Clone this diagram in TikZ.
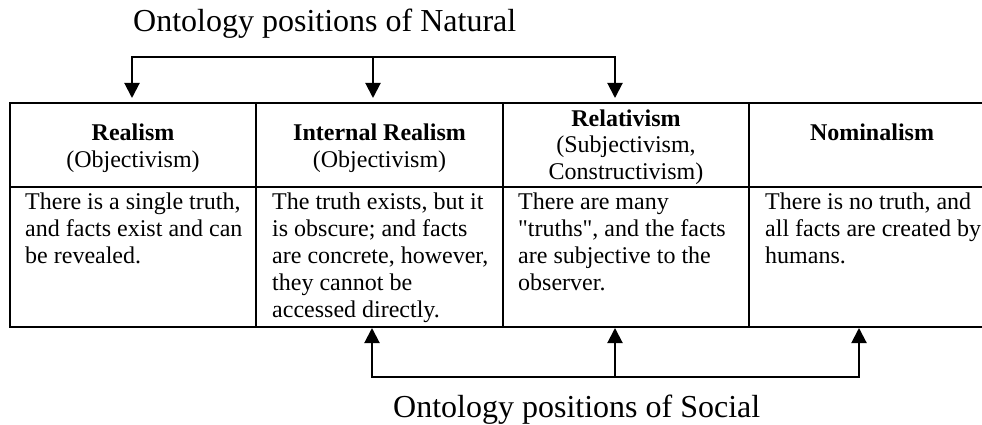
\documentclass[tikz,border=0pt]{standalone}
\usepackage{fontspec}
\setmainfont{Liberation Serif}
\usetikzlibrary{arrows.meta}
% straight double quote glyph, bypassing the TeX ligature mapping
\newcommand{\straightdq}{\XeTeXglyph\XeTeXcharglyph"22\relax}

\begin{document}
\begin{tikzpicture}[x=1pt,y=-1pt,
  grid/.style={line width=2pt, line cap=rect},
  conn/.style={line width=2pt},
  arr/.style={conn, -{Triangle[length=15pt,width=15pt]}},
  % multi-line cells are placed by the baseline of their last line
  headcell/.style={inner sep=0pt, anchor=base, align=center,
    font=\fontsize{24}{26.5}\selectfont},
  bodycell/.style={inner sep=0pt, anchor=base west, align=left,
    font=\fontsize{24}{27}\selectfont},
  titletext/.style={inner sep=0pt, anchor=base west, font=\fontsize{32}{36}\selectfont}]

\useasboundingbox (0,0) rectangle (982,425);

% table rules
\draw[grid] (10,103) -- (982,103);
\draw[grid] (10,187) -- (982,187);
\draw[grid] (10,327) -- (982,327);
\foreach \x in {10,256,503,749} \draw[grid] (\x,103) -- (\x,327);

% header row
\node[headcell] (hReal) at (133,167.5) {\textbf{Realism}\\(Objectivism)};
\node[headcell] (hInt) at (379.5,167.5) {\textbf{Internal Realism}\\(Objectivism)};
\node[headcell] (hRel) at (626,179) {\textbf{Relativism}\\(Subjectivism,\\Constructivism)};
\node[headcell] (hNom) at (872,140) {\textbf{Nominalism}};

% body row
\node[bodycell] (bReal) at (25,263) {There is a single truth,\\and facts exist and can\\be revealed.};
\node[bodycell] (bInt) at (272,317) {The truth exists, but it\\is obscure; and facts\\are concrete, however,\\they cannot be\\accessed directly.};
\node[bodycell] (bRel) at (518,290) {There are many\\\straightdq truths\straightdq, and the facts\\are subjective to the\\observer.};
\node[bodycell] (bNom) at (765,263) {There is no truth, and\\all facts are created by\\humans.};

% titles
\node[titletext] (natural) at (133,32) {Ontology positions of Natural};
\node[titletext] (social) at (393,417) {Ontology positions of Social};

% natural-science connectors
\coordinate (n1) at (132,57);
\coordinate (n2) at (373,57);
\coordinate (n3) at (615,57);
\coordinate (na1) at (132,98);
\coordinate (na2) at (373,98);
\coordinate (na3) at (615,98);
\draw[conn, line cap=rect] (n1) -- (n3);
\draw[arr] (n1) -- (na1);
\draw[arr] (n2) -- (na2);
\draw[arr] (n3) -- (na3);

% social-science connectors
\coordinate (s1) at (372,377);
\coordinate (s2) at (615,377);
\coordinate (s3) at (859,377);
\coordinate (sa1) at (372,328);
\coordinate (sa2) at (615,328);
\coordinate (sa3) at (859,328);
\draw[conn, line cap=rect] (s1) -- (s3);
\draw[arr] (s1) -- (sa1);
\draw[arr] (s2) -- (sa2);
\draw[arr] (s3) -- (sa3);

\end{tikzpicture}
\end{document}
